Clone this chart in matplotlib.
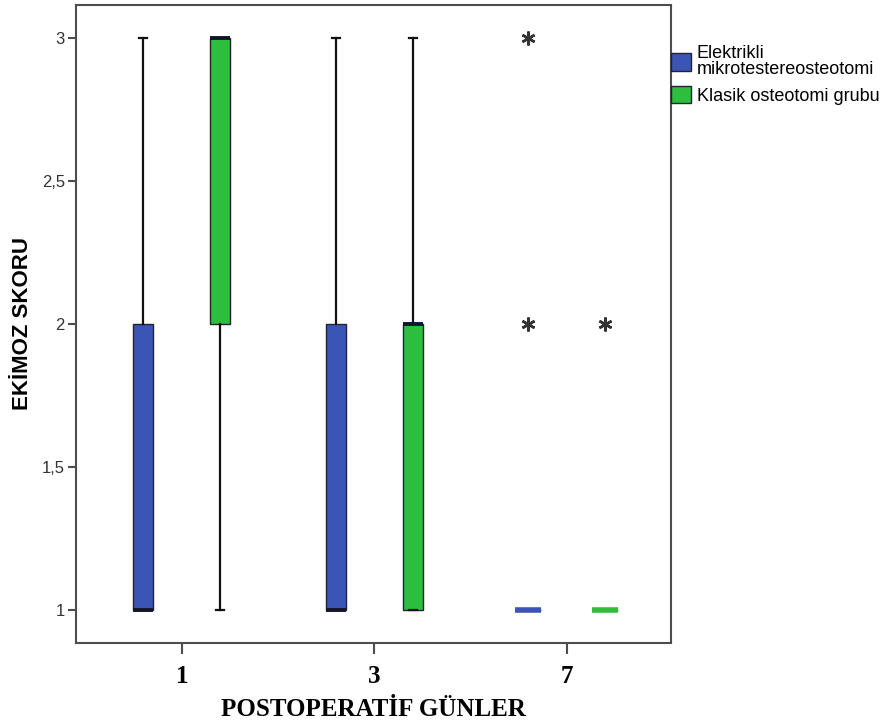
import matplotlib
matplotlib.use("Agg")
import matplotlib.pyplot as plt
from matplotlib.patches import Patch

# values (SPSS style boxplot)
days = ["1", "3", "7"]
groups = ["Elektrikli\nmikrotestereosteotomi", "Klasik osteotomi grubu"]
colors = ["#3a55b5", "#2dbe3e"]

elek_q1 = [1, 1, 1]
elek_med = [1, 1, 1]
elek_q3 = [2, 2, 1]
elek_wlo = [1, 1, 1]
elek_whi = [3, 3, 1]
elek_fliers = [[], [], [3, 2]]

klas_q1 = [2, 1, 1]
klas_med = [3, 2, 1]
klas_q3 = [3, 2, 1]
klas_wlo = [1, 1, 1]
klas_whi = [3, 3, 1]
klas_fliers = [[], [], [2]]

yticks = [1, 1.5, 2, 2.5, 3]
ytick_labels = ["1", "1,5", "2", "2,5", "3"]

fig = plt.figure(figsize=(8.81, 7.27), dpi=100)
ax = fig.add_axes([0.0863, 0.1155, 0.675, 0.878])

series = [
    (elek_q1, elek_med, elek_q3, elek_wlo, elek_whi, elek_fliers, -0.2, colors[0]),
    (klas_q1, klas_med, klas_q3, klas_wlo, klas_whi, klas_fliers, 0.2, colors[1]),
]

for q1, med, q3, wlo, whi, fl, off, col in series:
    stats = []
    for i in range(len(days)):
        stats.append(dict(q1=q1[i], med=med[i], q3=q3[i], whislo=wlo[i],
                          whishi=whi[i], fliers=fl[i]))
    flat = [q3[i] == q1[i] for i in range(len(days))]
    widths = [0.135 if f else 0.104 for f in flat]
    pos = [i + off for i in range(len(days))]
    bp = ax.bxp(stats, positions=pos, widths=widths, capwidths=0.042,
                patch_artist=True, manage_ticks=False,
                boxprops=dict(facecolor=col, edgecolor="#222233", linewidth=1.0),
                whiskerprops=dict(color="#111111", linewidth=1.6),
                capprops=dict(color="#111111", linewidth=1.6),
                medianprops=dict(color="#15152a", linewidth=2.8),
                flierprops=dict(marker=(6, 2, 0), markersize=10, markeredgewidth=1.8,
                                markeredgecolor="#333333", linestyle="none"))
    # zero-height boxes (day 7) show only a coloured median bar
    for i, f in enumerate(flat):
        if f:
            bp["boxes"][i].set_edgecolor(col)
            bp["medians"][i].set_color(col)
            bp["medians"][i].set_linewidth(4)
            bp["caps"][2 * i].set_visible(False)
            bp["caps"][2 * i + 1].set_visible(False)
            bp["whiskers"][2 * i].set_visible(False)
            bp["whiskers"][2 * i + 1].set_visible(False)

ax.set_xlim(-0.55, 2.54)
ax.set_ylim(0.885, 3.115)
ax.set_xticks(range(len(days)))
ax.set_xticklabels(days, fontfamily="Liberation Serif", fontweight="bold", fontsize=18)
ax.set_yticks(yticks)
ax.set_yticklabels(ytick_labels, fontfamily="Liberation Sans", fontsize=12, color="#333333")
ax.tick_params(axis="y", length=6, width=1.5, color="#4d4d4d", pad=2)
ax.tick_params(axis="x", length=8, width=1.5, color="#4d4d4d", pad=8)
for s in ax.spines.values():
    s.set_color("#4d4d4d")
    s.set_linewidth(1.5)

ax.set_xlabel("POSTOPERATİF GÜNLER", fontfamily="Liberation Serif", fontweight="bold",
              fontsize=18, labelpad=7)
ax.set_ylabel("EKİMOZ SKORU", fontfamily="Liberation Sans", fontweight="bold",
              fontsize=16, labelpad=6)

handles = [Patch(facecolor=c, edgecolor="#222233", linewidth=1.0) for c in colors]
leg = ax.legend(handles, groups, loc="upper left", bbox_to_anchor=(1.0, 0.937),
                frameon=False, borderaxespad=0, borderpad=0, handlelength=1.15,
                handleheight=1.15, handletextpad=0.3, labelspacing=0.4,
                prop=dict(family="Liberation Sans", size=13))
for t in leg.get_texts():
    t.set_linespacing(0.95)

fig.savefig("out.png", dpi=100)
